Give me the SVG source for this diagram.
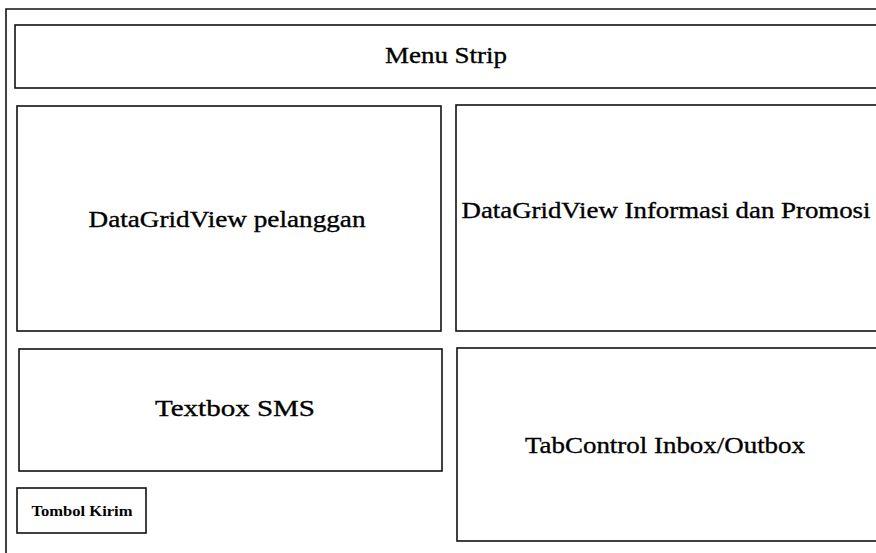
<svg xmlns="http://www.w3.org/2000/svg" width="876" height="553" viewBox="0 0 876 553">
<style>
.box{fill:none;stroke:#111;stroke-width:1.6}
.lbl{font-family:"Liberation Serif","Times New Roman",serif;fill:#000;stroke:#000;stroke-width:0.35;font-size:24px}
.small{font-family:"Liberation Serif","Times New Roman",serif;fill:#000;font-size:15px;font-weight:bold}
</style>
<rect width="876" height="553" fill="#fff"/>
<g id="frame">
<path class="box" d="M876 9 L6 9 L6 553"/>
</g>
<g id="menu-strip">
<rect class="box" x="15" y="25" width="880" height="63"/>
<text class="lbl" x="446" y="63" text-anchor="middle" textLength="122" lengthAdjust="spacingAndGlyphs">Menu Strip</text>
</g>
<g id="dgv-pelanggan">
<rect class="box" x="17" y="106" width="424" height="225"/>
<text class="lbl" x="227" y="227" text-anchor="middle" textLength="277" lengthAdjust="spacingAndGlyphs">DataGridView pelanggan</text>
</g>
<g id="dgv-informasi">
<rect class="box" x="456" y="105" width="440" height="226"/>
<text class="lbl" x="666" y="218" text-anchor="middle" textLength="409" lengthAdjust="spacingAndGlyphs">DataGridView Informasi dan Promosi</text>
</g>
<g id="textbox-sms">
<rect class="box" x="19" y="349" width="423" height="122"/>
<text class="lbl" x="235" y="416" text-anchor="middle" textLength="160" lengthAdjust="spacingAndGlyphs">Textbox SMS</text>
</g>
<g id="tombol-kirim">
<rect class="box" x="17" y="488" width="129" height="45"/>
<text class="small" x="82" y="516" text-anchor="middle" textLength="101" lengthAdjust="spacingAndGlyphs">Tombol Kirim</text>
</g>
<g id="tabcontrol">
<rect class="box" x="457" y="348" width="440" height="193"/>
<text class="lbl" x="665" y="453" text-anchor="middle" textLength="280" lengthAdjust="spacingAndGlyphs">TabControl Inbox/Outbox</text>
</g>
<g id="connectors"/>
</svg>
